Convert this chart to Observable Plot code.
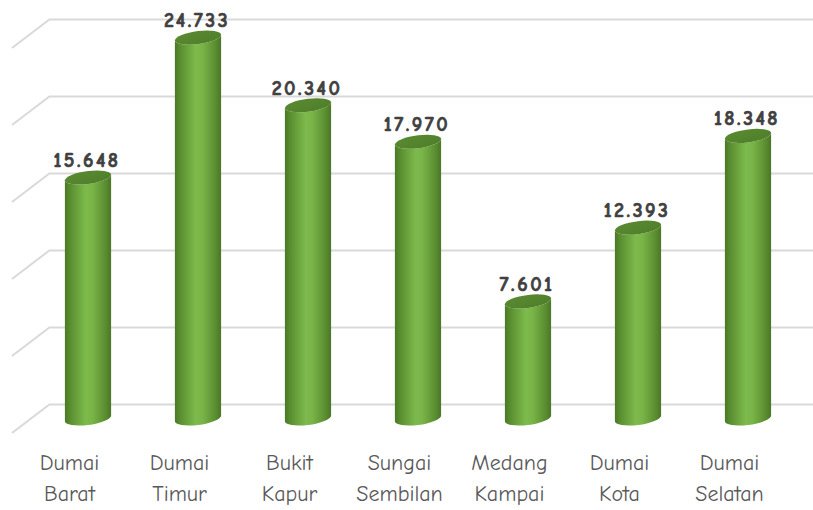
<!DOCTYPE html>
<html>
<head>
<meta charset="utf-8">
<script src="https://cdn.jsdelivr.net/npm/d3@7"></script>
<script src="https://cdn.jsdelivr.net/npm/@observablehq/plot@0.6"></script>
<style>
  html, body { margin: 0; padding: 0; background: #ffffff; }
  #chart svg { display: block; }
</style>
</head>
<body>
<div id="chart"></div>
<script>
// ---- data ----
const categories = ["Dumai\nBarat", "Dumai\nTimur", "Bukit\nKapur", "Sungai\nSembilan", "Medang\nKampai", "Dumai\nKota", "Dumai\nSelatan"];
const values = [15648, 24733, 20340, 17970, 7601, 12393, 18348];
const yTicks = [0, 5000, 10000, 15000, 20000, 25000];

const data = categories.map((c, i) => ({ name: c, value: values[i] }));
const idFormat = d3.formatLocale({ decimal: ",", thousands: ".", grouping: [3] }).format(",d");

// 3D depth offsets (back wall -> front edge)
const depthX = -38, depthY = 29;
const midX = depthX / 2, midY = depthY / 2;
const FONT = "'Comic Sans MS', 'Comic Neue', 'DejaVu Sans', sans-serif";

function gridDiagonals(index, scales, values, dims) {
  const g = d3.create("svg:g");
  for (const t of yTicks) {
    const y = scales.y(t);
    g.append("line")
      .attr("x1", dims.marginLeft).attr("y1", y)
      .attr("x2", dims.marginLeft + depthX).attr("y2", y + depthY)
      .attr("stroke", "#d9d9d9").attr("stroke-width", 2);
  }
  return g.node();
}

function cylinders(index, scales) {
  const g = d3.create("svg:g");
  const defs = g.append("defs");
  const side = defs.append("linearGradient").attr("id", "cylSide").attr("x1", 0).attr("x2", 1).attr("y1", 0).attr("y2", 0);
  [[0, "#4a7826"], [0.12, "#5a8f30"], [0.45, "#7dba4c"], [0.6, "#79b447"], [0.88, "#5a8d30"], [1, "#4b7627"]]
    .forEach(([o, c]) => side.append("stop").attr("offset", o).attr("stop-color", c));
  const top = defs.append("linearGradient").attr("id", "cylTop").attr("x1", 0).attr("x2", 1).attr("y1", 0).attr("y2", 1);
  [[0, "#5a8a31"], [1, "#4f7e2a"]].forEach(([o, c]) => top.append("stop").attr("offset", o).attr("stop-color", c));
  const bw = scales.x(categories[1]) - scales.x(categories[0]);
  const rx = bw * 0.21, ry = 6.5;
  const y0 = scales.y(0) + midY;
  for (const i of index) {
    const d = data[i];
    const cx = scales.x(d.name) + bw / 2 + midX;
    const yt = scales.y(d.value) + midY;
    const cyl = g.append("g").attr("transform", `translate(${cx},0) skewY(-7)`);
    cyl.append("path")
      .attr("d", `M${-rx},${yt} L${-rx},${y0} A${rx},${ry} 0 0 0 ${rx},${y0} L${rx},${yt} A${rx},${ry} 0 0 1 ${-rx},${yt} Z`)
      .attr("fill", "url(#cylSide)");
    cyl.append("ellipse")
      .attr("cx", 0).attr("cy", yt).attr("rx", rx).attr("ry", ry)
      .attr("fill", "url(#cylTop)");
  }
  return g.node();
}

function spaced(index, scales, values, dims, context, next) {
  const node = next(index, scales, values, dims, context);
  node.setAttribute("letter-spacing", "2.5px");
  return node;
}

const chart = Plot.plot({
  width: 813,
  height: 510,
  marginLeft: 50,
  marginRight: 0,
  marginTop: 19,
  marginBottom: 106,
  style: { fontFamily: FONT, background: "#ffffff" },
  x: { type: "band", domain: categories, range: [50, 823.5], padding: 0, axis: null },
  y: { domain: [0, 25000], axis: null },
  marks: [
    Plot.ruleY(yTicks, { stroke: "#d9d9d9", strokeWidth: 2 }),
    Plot.ruleY(yTicks, { render: gridDiagonals }),
    Plot.barY(data, { x: "name", y: "value", render: cylinders }),
    Plot.text(data, {
      x: "name", y: "value", text: d => idFormat(d.value),
      dx: midX - 1.5, dy: midY - 11, lineAnchor: "bottom",
      fontSize: 20, fontWeight: "bold", fill: "#404040",
      stroke: "#404040", strokeWidth: 0.7, render: spaced
    }),
    Plot.axisX({
      tickSize: 0, tickPadding: 44, dx: depthX, fontSize: 22, lineHeight: 1.4,
      fill: "#595959", fontFamily: FONT, label: null
    })
  ]
});
document.getElementById("chart").appendChild(chart);
</script>
</body>
</html>
